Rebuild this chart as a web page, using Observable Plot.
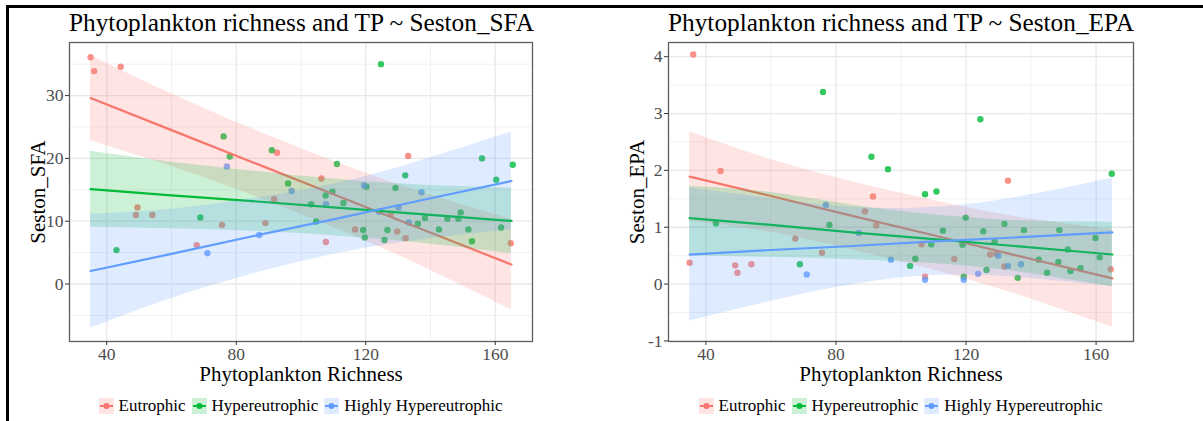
<!DOCTYPE html>
<html><head><meta charset="utf-8">
<script src="https://cdn.jsdelivr.net/npm/d3@7"></script>
<script src="https://cdn.jsdelivr.net/npm/@observablehq/plot@0.6"></script>
<style>
body{margin:0;background:#fff;width:1203px;height:421px;overflow:hidden;position:relative;font-family:"Liberation Serif","Times New Roman",serif}
.panel{position:absolute;top:0;height:421px}
.title{position:absolute;top:10px;left:0;right:0;text-align:center;font-size:25.3px;line-height:25px;color:#000;white-space:nowrap}
.chart{position:absolute;top:38px;left:0}
.chart svg, .chart svg text{font-family:"Liberation Serif","Times New Roman",serif !important}
.chart g[aria-label$="tick label"]{font-size:17.5px !important}
.legend{position:absolute;top:397px;left:0;right:0;display:flex;justify-content:center;align-items:center;font-size:17px;line-height:18px;color:#000;white-space:nowrap}
.item{display:flex;align-items:center;margin:0 3px}
.item span{margin-left:5px}
.bline{position:absolute;background:#000}
</style></head>
<body>
<div class="bline" style="left:6px;top:5px;width:1197px;height:3px"></div>
<div class="bline" style="left:6px;top:5px;width:3px;height:416px"></div>
<div id="left" class="panel" style="left:0;width:600px"></div>
<div id="right" class="panel" style="left:600px;width:603px"></div>
<script>
// ---- data ----
const groups = ["Eutrophic", "Hypereutrophic", "Highly Hypereutrophic"];
const colors = ["#F8766D", "#00BA38", "#619CFF"];
const xTicks = [40, 80, 120, 160];
const xMinor = [60, 100, 140];
const sfaTicks = [0, 10, 20, 30];
const sfaMinor = [-5, 5, 15, 25, 35];
const epaTicks = [-1, 0, 1, 2, 3, 4];
const epaMinor = [-0.5, 0.5, 1.5, 2.5, 3.5];

// Seston_SFA points
const sfaEutrophicX = [35, 36.1, 44.3, 49.5, 49.0, 54.1, 67.8, 75.6, 89.0, 91.7, 92.6, 106.3, 107.7, 116.7, 127.7, 129.7, 132.3, 133.1, 164.8];
const sfaEutrophicY = [36.1, 33.9, 34.6, 12.2, 11.0, 11.0, 6.2, 9.4, 9.7, 13.5, 20.9, 16.8, 6.7, 8.7, 11.1, 8.35, 7.3, 20.4, 6.5];
const sfaHyperX = [43.0, 68.9, 76.1, 78.0, 91.0, 96.0, 103.1, 104.7, 107.6, 109.7, 111.1, 113.1, 119.2, 119.7, 120.2, 124.7, 125.8, 126.7, 129.2, 132.2, 136.1, 138.3, 142.6, 145.2, 148.6, 149.3, 151.7, 152.8, 155.9, 160.3, 161.8, 165.4];
const sfaHyperY = [5.4, 10.6, 23.5, 20.3, 21.3, 16.0, 12.7, 9.95, 14.1, 14.7, 19.1, 12.9, 8.6, 7.4, 15.5, 35.0, 7.0, 8.6, 15.3, 17.3, 9.6, 10.5, 8.7, 10.4, 10.4, 11.4, 8.7, 6.8, 20.0, 16.6, 9.0, 19.0];
const sfaHighlyX = [71.1, 77.1, 87.1, 97.1, 107.7, 119.5, 124.1, 130.1, 133.3, 137.2];
const sfaHighlyY = [4.9, 18.7, 7.8, 14.8, 12.7, 15.7, 11.5, 12.2, 9.8, 14.6];

// Seston_EPA points
const epaEutrophicX = [35.0, 36.1, 44.5, 49.0, 49.7, 54.0, 67.5, 75.7, 88.9, 91.4, 92.4, 106.3, 107.4, 116.4, 127.4, 129.3, 131.8, 132.9, 164.5];
const epaEutrophicY = [0.375, 4.04, 1.99, 0.33, 0.20, 0.35, 0.80, 0.55, 1.28, 1.54, 1.03, 0.70, 0.13, 0.44, 0.52, 0.54, 0.31, 1.82, 0.26];
const epaHyperX = [43.1, 68.9, 76.0, 78.0, 90.9, 96.0, 102.8, 104.4, 107.4, 109.3, 110.9, 112.9, 118.9, 119.3, 119.9, 124.4, 125.3, 126.3, 128.8, 131.8, 135.9, 137.8, 142.4, 144.9, 148.4, 148.7, 151.3, 152.1, 155.2, 159.8, 161.1, 164.8];
const epaHyperY = [1.07, 0.35, 3.38, 1.04, 2.24, 2.02, 0.32, 0.445, 1.58, 0.70, 1.63, 0.94, 0.69, 0.13, 1.17, 2.90, 0.93, 0.25, 0.745, 1.06, 0.11, 0.95, 0.43, 0.20, 0.39, 0.95, 0.61, 0.23, 0.28, 0.81, 0.47, 1.94];
const epaHighlyX = [71.0, 76.9, 87.0, 96.9, 107.4, 119.3, 123.7, 129.9, 132.9, 136.9];
const epaHighlyY = [0.17, 1.39, 0.90, 0.43, 0.075, 0.075, 0.18, 0.50, 0.32, 0.35];

// fitted lines with confidence bands
const fitX = [35, 60, 85, 110, 135, 165];
const sfaEutrophicFit = [29.6, 24.5, 19.4, 14.3, 9.2, 3.1];
const sfaEutrophicLo  = [22.8, 18.7, 14.1, 9.0, 3.4, -4.1];
const sfaEutrophicHi  = [36.4, 30.3, 24.7, 19.6, 15.0, 10.3];
const sfaHyperFit = [15.1, 14.1, 13.2, 12.2, 11.2, 10.05];
const sfaHyperLo  = [9.05, 8.8, 8.4, 7.7, 6.6, 4.85];
const sfaHyperHi  = [21.15, 19.4, 18.0, 16.7, 15.8, 15.25];
const sfaHighlyFit = [2.07, 4.8, 7.6, 10.3, 13.1, 16.4];
const sfaHighlyLo  = [-7.0, -2.3, 1.6, 4.7, 6.9, 8.6];
const sfaHighlyHi  = [11.1, 11.9, 13.6, 15.9, 19.3, 24.2];

const epaEutrophicFit = [1.89, 1.55, 1.20, 0.86, 0.51, 0.10];
const epaEutrophicLo  = [1.10, 0.91, 0.60, 0.25, -0.17, -0.76];
const epaEutrophicHi  = [2.68, 2.19, 1.80, 1.47, 1.19, 0.96];
const epaHyperFit = [1.16, 1.04, 0.91, 0.79, 0.67, 0.52];
const epaHyperLo  = [0.50, 0.47, 0.43, 0.36, 0.22, -0.05];
const epaHyperHi  = [1.72, 1.61, 1.39, 1.22, 1.12, 1.09];
const epaHighlyFit = [0.52, 0.60, 0.67, 0.75, 0.82, 0.91];
const epaHighlyLo  = [-0.65, -0.30, -0.01, 0.15, 0.12, -0.04];
const epaHighlyHi  = [1.69, 1.50, 1.35, 1.35, 1.52, 1.86];

const xLabel = "Phytoplankton Richness";

// ---- build ----
const fam = '"Liberation Serif","Times New Roman",serif';
function makePanel(host, cfg) {
  const t = document.createElement("div");
  t.className = "title";
  t.textContent = cfg.title;
  t.style.paddingLeft = cfg.ml + "px";
  t.style.paddingRight = cfg.mr + "px";
  host.appendChild(t);

  const marks = [
    Plot.gridX(xMinor, {stroke: "#f1f1f1", strokeOpacity: 1, strokeWidth: 1}),
    Plot.gridY(cfg.minor, {stroke: "#f1f1f1", strokeOpacity: 1, strokeWidth: 1}),
    Plot.gridX(xTicks, {stroke: "#e8e8e8", strokeOpacity: 1, strokeWidth: 1.3}),
    Plot.gridY(cfg.ticks, {stroke: "#e8e8e8", strokeOpacity: 1, strokeWidth: 1.3})
  ];
  cfg.points.forEach(([xs, ys], i) => {
    marks.push(Plot.dot(xs.map((x, j) => ({x, y: ys[j]})), {x: "x", y: "y", r: 3.2, fill: colors[i], fillOpacity: 0.8, stroke: "none"}));
  });
  cfg.fits.forEach(([fit, lo, hi], i) => {
    const rows = fitX.map((x, j) => ({x, fit: fit[j], lo: lo[j], hi: hi[j]}));
    marks.push(Plot.areaY(rows, {x: "x", y1: "lo", y2: "hi", fill: colors[i], fillOpacity: 0.2, curve: "natural"}));
    marks.push(Plot.line(rows, {x: "x", y: "fit", stroke: colors[i], strokeWidth: 2.2}));
  });
  marks.push(
    Plot.frame({stroke: "#5e5e5e", strokeWidth: 1.3}),
    Plot.axisX(xTicks, {tickSize: 4, tickPadding: 2, fontSize: 17.5, fontFamily: fam, stroke: "#333", fill: "#4d4d4d", label: null, tickFormat: d => String(d)}),
    Plot.axisY(cfg.ticks, {tickSize: 4, tickPadding: 2, fontSize: 17.5, fontFamily: fam, stroke: "#333", fill: "#4d4d4d", label: null, tickFormat: d => String(d)}),
    Plot.text([xLabel], {text: d => d, frameAnchor: "bottom", textAnchor: "middle", dy: 39, lineAnchor: "bottom", fontSize: 21, fill: "#000"}),
    Plot.text([cfg.yLabel], {text: d => d, frameAnchor: "left", textAnchor: "middle", dx: -25, rotate: -90, lineAnchor: "bottom", fontSize: 21, fill: "#000"})
  );
  const svg = Plot.plot({
    width: cfg.width, height: 345,
    marginTop: 4, marginBottom: 42, marginLeft: cfg.ml, marginRight: cfg.mr,
    x: {domain: [28.5, 171.5]},
    y: {domain: cfg.yDomain},
    style: {fontFamily: fam, fontSize: "17px", background: "transparent", overflow: "visible"},
    marks
  });
  const c = document.createElement("div");
  c.className = "chart";
  c.appendChild(svg);
  host.appendChild(c);

  const lg = document.createElement("div");
  lg.className = "legend";
  lg.style.paddingLeft = cfg.ml + "px";
  lg.style.paddingRight = cfg.mr + "px";
  groups.forEach((g, i) => {
    const it = document.createElement("div");
    it.className = "item";
    it.innerHTML = `<svg width="15" height="16"><rect width="15" height="16" fill="${colors[i]}" fill-opacity="0.2"/><line x1="1" x2="14" y1="8" y2="8" stroke="${colors[i]}" stroke-width="2"/><circle cx="7.5" cy="8" r="3" fill="${colors[i]}"/></svg><span>${g}</span>`;
    lg.appendChild(it);
  });
  host.appendChild(lg);
}

makePanel(document.getElementById("left"), {
  title: "Phytoplankton richness and TP ~ Seston_SFA",
  width: 600, ml: 69, mr: 68, yDomain: [-9.15, 38.45],
  ticks: sfaTicks, minor: sfaMinor, yLabel: "Seston_SFA",
  points: [[sfaEutrophicX, sfaEutrophicY], [sfaHyperX, sfaHyperY], [sfaHighlyX, sfaHighlyY]],
  fits: [[sfaEutrophicFit, sfaEutrophicLo, sfaEutrophicHi], [sfaHyperFit, sfaHyperLo, sfaHyperHi], [sfaHighlyFit, sfaHighlyLo, sfaHighlyHi]]
});
makePanel(document.getElementById("right"), {
  title: "Phytoplankton richness and TP ~ Seston_EPA",
  width: 603, ml: 68, mr: 70, yDomain: [-1.01, 4.25],
  ticks: epaTicks, minor: epaMinor, yLabel: "Seston_EPA",
  points: [[epaEutrophicX, epaEutrophicY], [epaHyperX, epaHyperY], [epaHighlyX, epaHighlyY]],
  fits: [[epaEutrophicFit, epaEutrophicLo, epaEutrophicHi], [epaHyperFit, epaHyperLo, epaHyperHi], [epaHighlyFit, epaHighlyLo, epaHighlyHi]]
});
</script>
</body></html>
